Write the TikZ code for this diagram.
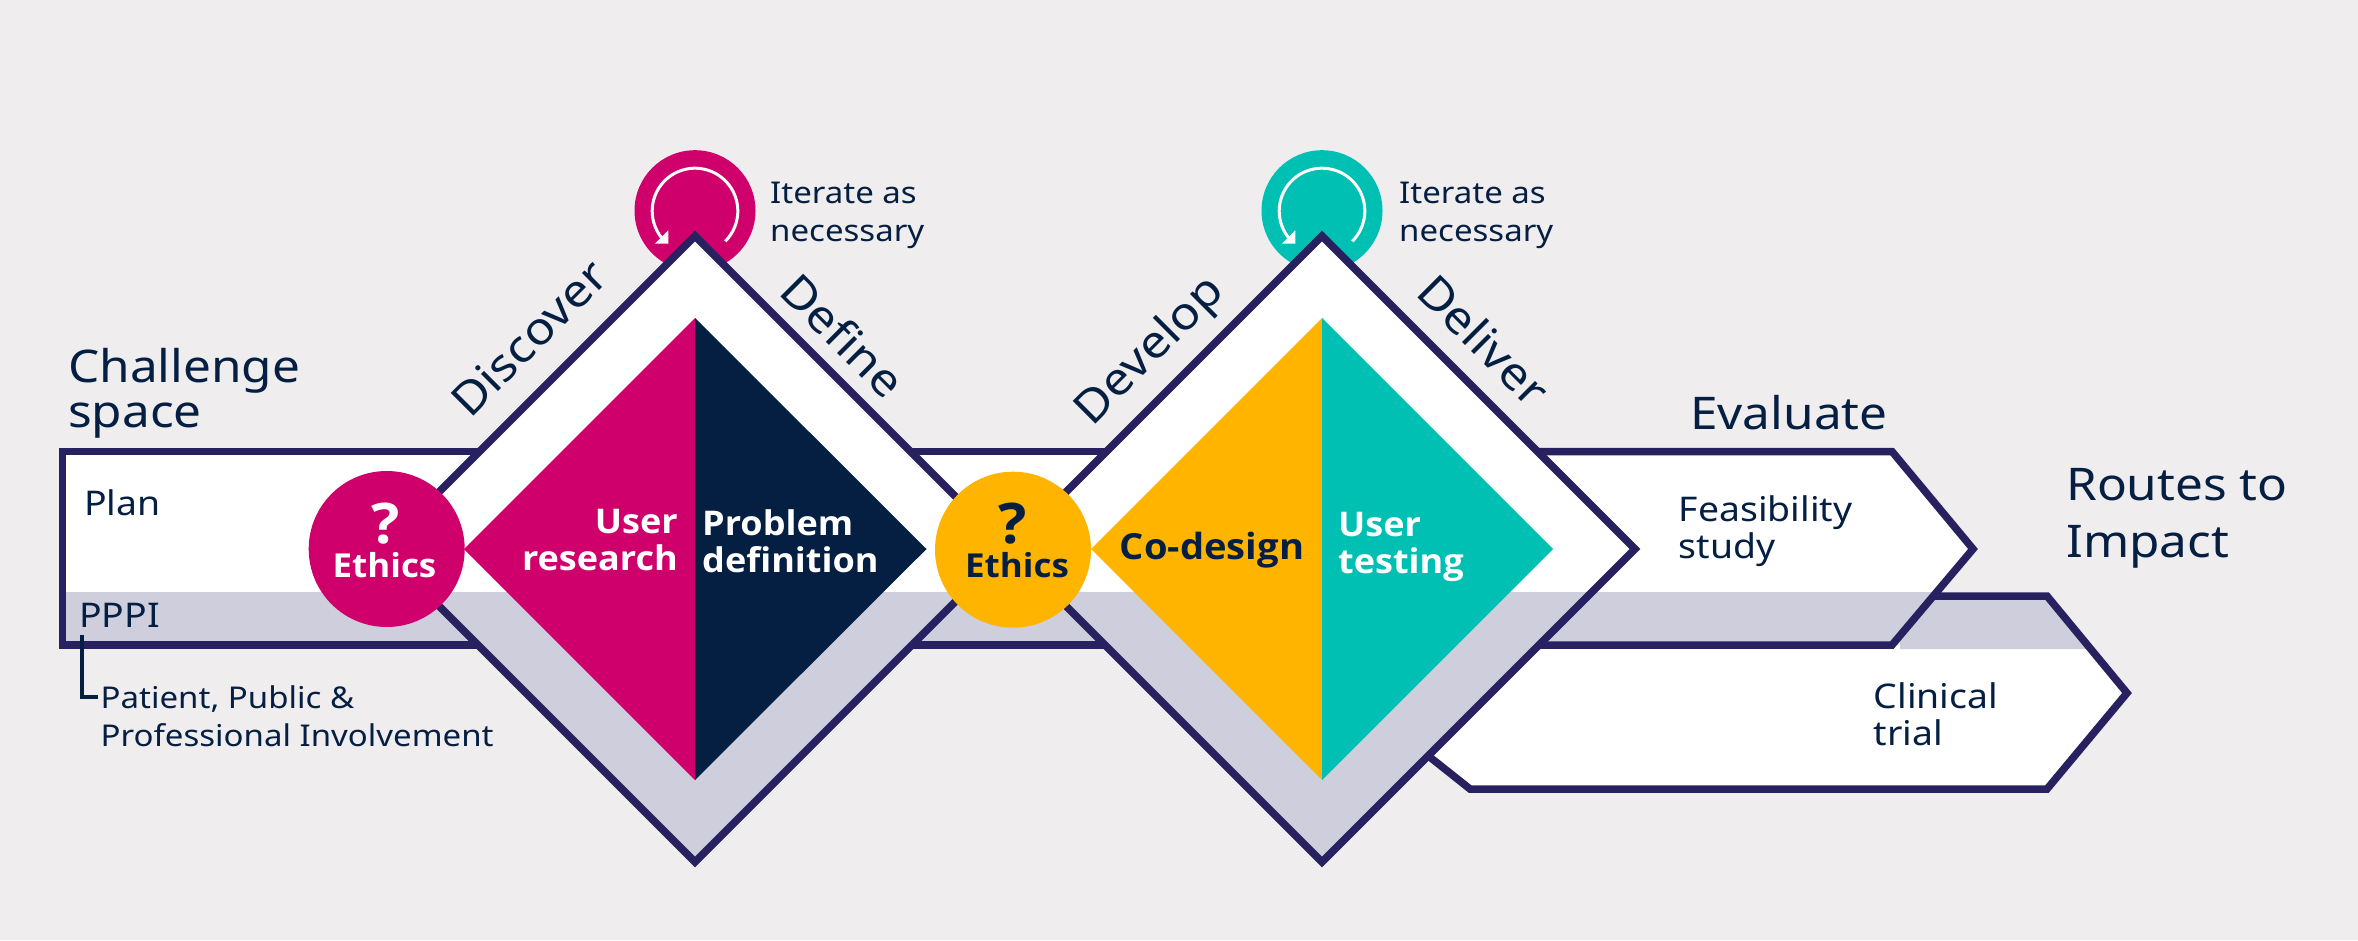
\documentclass[tikz,border=0pt]{standalone}
\usepackage{fontspec}
\setmainfont{Noto Sans}[FakeStretch=1.1]
\newfontfamily\semifont{Open Sans}[BoldFeatures={FakeStretch=1.06}]
\definecolor{bgc}{HTML}{EFEDEE}
\definecolor{outl}{HTML}{27215F}
\definecolor{greyb}{HTML}{CECEDC}
\definecolor{navy}{HTML}{051F42}
\definecolor{mag}{HTML}{CF006B}
\definecolor{teal2}{HTML}{00BFB3}
\definecolor{amber}{HTML}{FFB500}
\tikzset{
  outline/.style={draw=outl,line width=7.5pt,miter limit=10},
  big/.style={text=navy,inner sep=0pt,font=\fontsize{45}{45}\selectfont,align=left},
  mid/.style={text=navy,inner sep=0pt,font=\fontsize{34}{36.5}\selectfont,align=left},
  small/.style={text=navy,inner sep=0pt,font=\fontsize{30}{38}\selectfont,align=left},
  strong/.style={inner sep=0pt,font=\semifont\bfseries\fontsize{34}{36.5}\selectfont},
  ethcircle/.style={circle,minimum size=156pt,inner sep=0pt},
  itercircle/.style={circle,minimum size=121pt,inner sep=0pt},
}
\newcommand{\iterarrow}[2]{%
  \draw[white,line width=3pt,domain=-45:218,samples=70,variable=\t]
    plot ({#1+42.8*cos(\t)},{#2-42.8*sin(\t)});
  \fill[white] (#1-40,#2+32.5) -- (#1-26.7,#2+32.5) -- (#1-26.7,#2+19.3) -- cycle;
}
\newcommand{\diamondshape}[1]{%
  \fill[white] (#1,236) -- (#1+313,549) -- (#1,862) -- (#1-313,549) -- cycle;
  \fill[greyb] (#1-270,592) -- (#1+270,592) -- (#1,862) -- cycle;
  \draw[outline] (#1,236) -- (#1+313,549) -- (#1,862) -- (#1-313,549) -- cycle;
}
\begin{document}
\begin{tikzpicture}[x=1pt,y=-1pt]
\useasboundingbox (0,0) rectangle (2358,940);
\fill[bgc] (0,0) rectangle (2358,940);
% iterate circles
\node[itercircle,fill=mag] (itA) at (695,210.7) {};
\node[itercircle,fill=teal2] (itB) at (1322,210.7) {};
\iterarrow{695}{211}
\iterarrow{1322}{211}
% band
\fill[white] (62,451.5) rectangle (1540,592);
\fill[greyb] (62,592) rectangle (1540,645);
\draw[outline] (1540,451.5) -- (62.5,451.5) -- (62.5,645) -- (1540,645);
% clinical trial
\fill[white] (1540,645) -- (2087,645) -- (2127,693) -- (2047,789) -- (1470,789) -- (1426,754) -- cycle;
\fill[greyb] (1900,596) -- (2047,596) -- (2090,649) -- (1900,649) -- cycle;
\draw[outline] (1925,596) -- (2047,596) -- (2127,693) -- (2047,789) -- (1470,789) -- (1426,754);
% feasibility
\fill[white] (1500,451.5) -- (1892,451.5) -- (1973,549) -- (1937,592) -- (1500,592) -- cycle;
\fill[greyb] (1500,592) -- (1937,592) -- (1892,645) -- (1500,645) -- cycle;
\draw[outline] (1500,451.5) -- (1892,451.5) -- (1973,549) -- (1892,645) -- (1500,645);
% diamonds
\diamondshape{695}
\diamondshape{1322}
% inner triangles
\fill[mag] (695,318) -- (695,780) -- (464,549) -- cycle;
\fill[navy] (695,318) -- (695,780) -- (926.5,549) -- cycle;
\fill[amber] (1322,318) -- (1322,780) -- (1091,549) -- cycle;
\fill[teal2] (1322,318) -- (1322,780) -- (1553,549) -- cycle;
% ethics
\node[ethcircle,fill=mag] (ethA) at (386.7,549) {};
\node[ethcircle,fill=amber] (ethB) at (1013,549.7) {};
\node[text=white,inner sep=0pt,font=\semifont\bfseries\fontsize{56}{56}\selectfont] (qA) at (386,524) {?};
\node[text=navy,inner sep=0pt,font=\semifont\bfseries\fontsize{56}{56}\selectfont] (qB) at (1013,524) {?};
\node[anchor=base,inner sep=0pt,text=white,font=\semifont\bfseries\fontsize{33}{36}\selectfont] (ethtA) at (384.5,577) {Ethics};
\node[anchor=base,inner sep=0pt,text=navy,font=\semifont\bfseries\fontsize{33}{36}\selectfont] (ethtB) at (1017,577) {Ethics};
% labels
\node[big,anchor=west] (chal) at (68,393) {Challenge\\space};
\node[mid,anchor=base west] (plan) at (84,515) {Plan};
\node[mid,anchor=base west] (pppi) at (79,627) {PPPI};
\node[small,anchor=west] (ppi) at (100.5,716) {Patient, Public \&\\Professional Involvement};
\coordinate (cnA) at (82,635);
\coordinate (cnB) at (98,697);
\draw[navy,line width=3.5pt] (cnA) |- (cnB);
\node[small,anchor=west] (iterA) at (770,215) {Iterate as\\necessary};
\node[small,anchor=west] (iterB) at (1399,215) {Iterate as\\necessary};
\node[big,rotate=45] (disc) at (529,338) {Discover};
\node[big,rotate=-45] (defi) at (843,335) {Define};
\node[big,rotate=45] (deve) at (1151,352) {Develop};
\node[big,rotate=-45] (deli) at (1484,340) {Deliver};
\node[big,anchor=west] (eval) at (1690,413) {Evaluate};
\node[big,anchor=west,font=\fontsize{45}{57}\selectfont] (rout) at (2066,518) {Routes to\\Impact};
\node[strong,text=white,align=right,anchor=east] (ures) at (678,540) {User\\research};
\node[strong,text=white,align=left,anchor=west] (prob) at (702,541) {Problem\\definition};
\node[strong,text=navy,font=\semifont\bfseries\fontsize{36}{36.5}\selectfont] (code) at (1212,550) {Co-design};
\node[strong,text=white,align=left,anchor=west] (utes) at (1338,547) {User\\testing};
\node[mid,anchor=west] (feas) at (1678.5,531) {Feasibility\\study};
\node[mid,anchor=west] (clin) at (1873.5,714) {Clinical\\trial};
\end{tikzpicture}
\end{document}
